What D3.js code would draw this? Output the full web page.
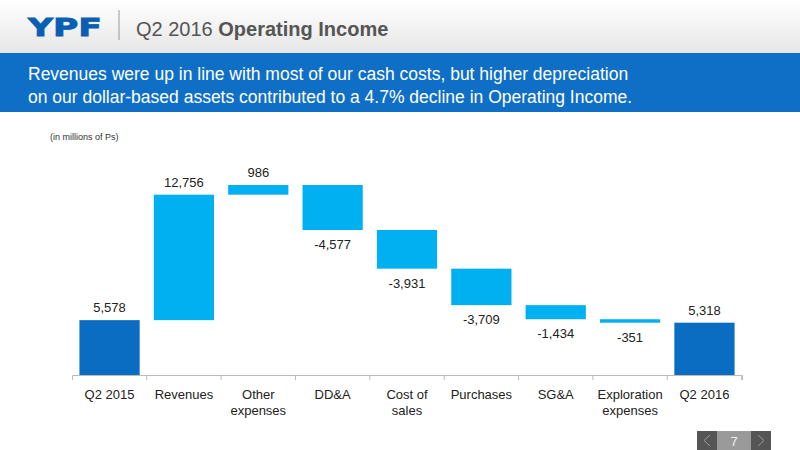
<!DOCTYPE html>
<html><head><meta charset="utf-8">
<script src="https://cdn.jsdelivr.net/npm/d3@7"></script>
<style>body{margin:0;background:#fff;font-family:"Liberation Sans",Arial,sans-serif}</style>
</head><body><div id="chart-area"></div>
<script>
// waterfall of operating income
const categories = ["Q2 2015", "Revenues", "Other\nexpenses", "DD&A", "Cost of\nsales", "Purchases", "SG&A", "Exploration\nexpenses", "Q2 2016"]
const values = [5578, 12756, 986, -4577, -3931, -3709, -1434, -351, 5318]
const labels = ["5,578", "12,756", "986", "-4,577", "-3,931", "-3,709", "-1,434", "-351", "5,318"]
const totals = [true, false, false, false, false, false, false, false, true]

const W = 800, H = 450
const svg = d3.select('#chart-area').append('svg').attr('width', W).attr('height', H)

// header
const grad = svg.append('defs').append('linearGradient').attr('id', 'hg').attr('x1', 0).attr('x2', 0).attr('y1', 0).attr('y2', 1)
grad.append('stop').attr('offset', 0).attr('stop-color', '#fff')
grad.append('stop').attr('offset', 1).attr('stop-color', '#e6e6e6')
svg.append('rect').attr('width', W).attr('height', 53).attr('fill', 'url(#hg)')
svg.append('text').attr('x', 28).attr('y', 36).attr('font-size', 24).attr('font-weight', 'bold')
    .attr('fill', '#0a5fb4').attr('font-family', '"DejaVu Sans"').attr('textLength', 74).attr('lengthAdjust', 'spacingAndGlyphs')
    .attr('stroke', '#0a5fb4').attr('stroke-width', 0.8).text('YPF')
svg.append('line').attr('x1', 119).attr('x2', 119).attr('y1', 10).attr('y2', 40).attr('stroke', '#999')
const t = svg.append('text').attr('x', 136).attr('y', 36).attr('font-size', 20).attr('fill', '#555')
t.append('tspan').text('Q2 2016 ')
t.append('tspan').attr('font-weight', 'bold').text('Operating Income')
svg.append('rect').attr('y', 53).attr('width', W).attr('height', 59).attr('fill', '#0f6fc6')
svg.append('text').attr('x', 28).attr('y', 80).attr('font-size', 17.5).attr('fill', '#fff')
    .text('Revenues were up in line with most of our cash costs, but higher depreciation')
svg.append('text').attr('x', 28).attr('y', 103).attr('font-size', 17.5).attr('fill', '#fff')
    .text('on our dollar-based assets contributed to a 4.7% decline in Operating Income.')
svg.append('text').attr('x', 50).attr('y', 140).attr('font-size', 9).attr('fill', '#333').text('(in millions of Ps)')

// compute waterfall
let run = 0
const bars = values.map((v, i) => {
    let lo, hi
    if (totals[i]) { lo = 0; hi = v; run = v }
    else { const s = run; run += v; lo = Math.min(s, run); hi = Math.max(s, run) }
    return { cat: categories[i], v, lo, hi, label: labels[i], total: totals[i] }
})

const x = d3.scaleBand().domain(categories).range([72, 742]).paddingInner(0.19).paddingOuter(0.1)
const y = d3.scaleLinear().domain([0, 19320]).range([375, 185])

svg.selectAll('rect.bar').data(bars).enter().append('rect')
    .attr('x', d => x(d.cat)).attr('width', x.bandwidth())
    .attr('y', d => y(d.hi)).attr('height', d => y(d.lo) - y(d.hi))
    .attr('fill', d => d.total ? '#0a6dc2' : '#00b0f0')

svg.selectAll('text.val').data(bars).enter().append('text')
    .attr('x', d => x(d.cat) + x.bandwidth() / 2)
    .attr('y', d => d.v >= 0 ? y(d.hi) - 8 : y(d.lo) + 19)
    .attr('text-anchor', 'middle').attr('font-size', 13).attr('fill', '#222').text(d => d.label)

const ax = svg.append('g').attr('transform', 'translate(0,375)')
    .call(d3.axisBottom(x).tickSize(5).tickSizeOuter(5).tickFormat(''))
ax.select('.domain').attr('stroke', '#bbb')
ax.selectAll('.tick line').attr('stroke', '#bbb').attr('transform', `translate(${x.step() / 2},0)`)
ax.selectAll('.tick').append('text').attr('fill', '#222').attr('font-size', 13).attr('text-anchor', 'middle')
    .attr('y', 0)
    .each(function (d) {
        d.split('\n').forEach((s, i) => d3.select(this).append('tspan').attr('x', 0).attr('y', 24 + i * 16).text(s))
    })

// page nav
svg.append('rect').attr('x', 697).attr('y', 431).attr('width', 20).attr('height', 19).attr('fill', '#555')
svg.append('rect').attr('x', 717).attr('y', 431).attr('width', 34).attr('height', 19).attr('fill', '#9a9a9a')
svg.append('rect').attr('x', 751).attr('y', 431).attr('width', 20).attr('height', 19).attr('fill', '#555')
svg.append('text').attr('x', 734).attr('y', 446).attr('text-anchor', 'middle').attr('font-size', 13).attr('fill', '#eee').text('7')
svg.append('path').attr('d', 'M710,435 L704,440.5 L710,446').attr('fill', 'none').attr('stroke', '#999')
svg.append('path').attr('d', 'M758,435 L764,440.5 L758,446').attr('fill', 'none').attr('stroke', '#999')
</script></body></html>
